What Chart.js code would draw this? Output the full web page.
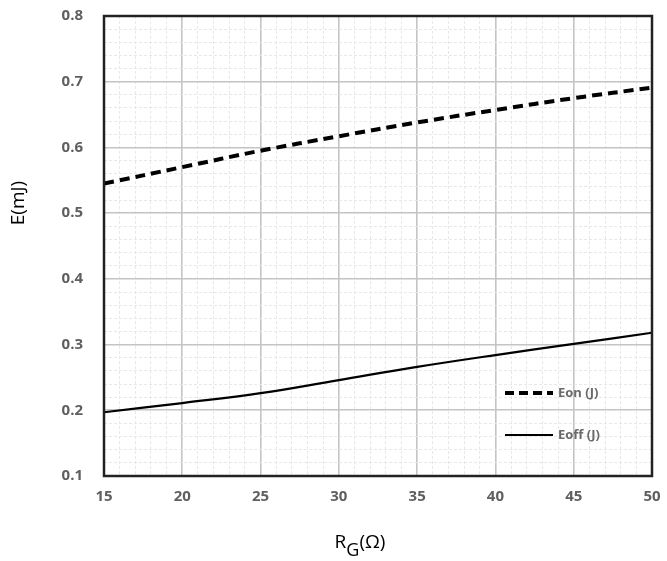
<!DOCTYPE html>
<html>
<head>
<meta charset="utf-8">
<script src="https://cdn.jsdelivr.net/npm/chart.js@4.4.0/dist/chart.umd.min.js"></script>
<style>
  html, body { margin: 0; padding: 0; background: #fff; }
  #wrap { width: 667px; height: 561px; }
</style>
</head>
<body>
<div id="wrap"><canvas id="eChart" width="667" height="561"></canvas></div>
<script>
// gate resistance (ohm) and switching energies (mJ)
const rg = [15, 20, 25, 30, 35, 40, 45, 50];
const eon = [0.545, 0.570, 0.595, 0.617, 0.638, 0.657, 0.675, 0.691];
const eoff = [0.197, 0.211, 0.226, 0.246, 0.266, 0.284, 0.301, 0.318];
const seriesNames = ['Eon (J)', 'Eoff (J)'];

const tickFont = { family: 'Open Sans', size: 15, weight: 'bold' };
const tickColor = '#5f5f5f';

const isMajor = (v, step) => Math.abs(v / step - Math.round(v / step)) < 1e-6;

// frame, axis titles and in-plot legend
const extras = {
  id: 'extras',
  afterDraw(chart) {
    const { ctx, chartArea: a } = chart;
    ctx.save();
    ctx.strokeStyle = '#222';
    ctx.lineWidth = 2.5;
    ctx.strokeRect(a.left, a.top, a.right - a.left, a.bottom - a.top);

    // y title
    ctx.fillStyle = '#000';
    ctx.font = '19px "Open Sans"';
    ctx.translate(19, 203);
    ctx.rotate(-Math.PI / 2);
    ctx.textAlign = 'center';
    ctx.textBaseline = 'middle';
    ctx.fillText('E(mJ)', 0, 0);
    ctx.setTransform(1, 0, 0, 1, 0, 0);

    // x title with subscript G
    const big = '19px "Open Sans"', small = '18px "Open Sans"';
    ctx.font = big; const wR = ctx.measureText('R').width, wT = ctx.measureText('(Ω)').width;
    ctx.font = small; const wG = ctx.measureText('G').width;
    let x = 360 - (wR + wG + wT) / 2;
    const y = 548;
    ctx.textAlign = 'left';
    ctx.textBaseline = 'alphabetic';
    ctx.font = big; ctx.fillText('R', x, y); x += wR;
    ctx.font = small; ctx.fillText('G', x, y + 8); x += wG;
    ctx.font = big; ctx.fillText('(Ω)', x, y);

    // legend
    const rows = [{ y: 393, dash: [9, 5], w: 4 }, { y: 435, dash: [], w: 2.2 }];
    rows.forEach((r, i) => {
      ctx.beginPath();
      ctx.setLineDash(r.dash);
      ctx.lineWidth = r.w;
      ctx.strokeStyle = '#000';
      ctx.moveTo(505, r.y);
      ctx.lineTo(553, r.y);
      ctx.stroke();
      ctx.setLineDash([]);
      ctx.fillStyle = '#6a6a6a';
      ctx.font = 'bold 13px "Open Sans"';
      ctx.textBaseline = 'middle';
      ctx.fillText(seriesNames[i], 558, r.y);
    });
    ctx.restore();
  }
};

new Chart('eChart', {
  type: 'line',
  data: {
    datasets: [
      {
        label: seriesNames[0],
        data: rg.map((v, i) => ({ x: v, y: eon[i] })),
        borderColor: '#000',
        borderWidth: 4,
        borderDash: [10, 6],
        pointRadius: 0,
        tension: 0.4
      },
      {
        label: seriesNames[1],
        data: rg.map((v, i) => ({ x: v, y: eoff[i] })),
        borderColor: '#000',
        borderWidth: 2.2,
        pointRadius: 0,
        tension: 0.4
      }
    ]
  },
  options: {
    responsive: false,
    animation: false,
    layout: { padding: { left: 0, right: 15, top: 16, bottom: 0 } },
    plugins: { legend: { display: false }, tooltip: { enabled: false } },
    scales: {
      x: {
        type: 'linear',
        min: 15, max: 50,
        afterFit: s => { s.height = 85; s.paddingLeft = 0; s.paddingRight = 0; },
        ticks: {
          stepSize: 1,
          autoSkip: false,
          maxRotation: 0,
          color: tickColor,
          font: tickFont,
          padding: 12,
          callback: v => isMajor(v, 5) ? v : ''
        },
        grid: {
          drawTicks: false,
          color: c => isMajor(c.tick.value, 5) ? '#c4c4c4' : '#e8e8e8',
          lineWidth: c => isMajor(c.tick.value, 5) ? 1.6 : 1
        },
        border: { display: false, dash: c => (c.tick && !isMajor(c.tick.value, 5)) ? [3, 2] : [] }
      },
      y: {
        min: 0.1, max: 0.8,
        afterFit: s => { s.width = 104; s.paddingTop = 0; s.paddingBottom = 0; },
        ticks: {
          stepSize: 0.02,
          autoSkip: false,
          color: tickColor,
          font: tickFont,
          padding: 21,
          callback: v => isMajor(v, 0.1) ? v.toFixed(1) : ''
        },
        grid: {
          drawTicks: false,
          color: c => isMajor(c.tick.value, 0.1) ? '#c4c4c4' : '#e8e8e8',
          lineWidth: c => isMajor(c.tick.value, 0.1) ? 1.6 : 1
        },
        border: { display: false, dash: c => (c.tick && !isMajor(c.tick.value, 0.1)) ? [3, 2] : [] }
      }
    }
  },
  plugins: [extras]
});
</script>
</body>
</html>
